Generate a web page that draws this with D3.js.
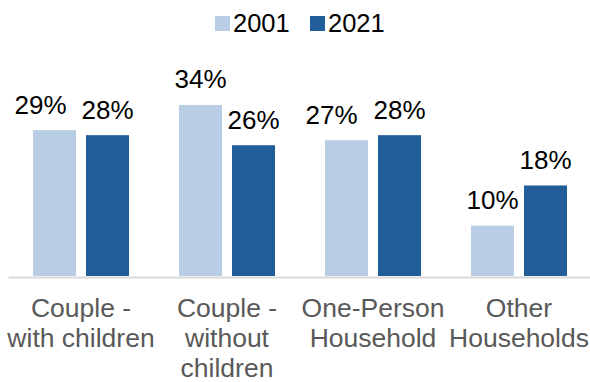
<!DOCTYPE html>
<html>
<head>
<meta charset="utf-8">
<script src="https://cdn.jsdelivr.net/npm/d3@7"></script>
<style>
  html, body { margin: 0; padding: 0; background: #ffffff; }
  svg { display: block; font-family: "Liberation Sans", Arial, sans-serif; }
</style>
</head>
<body>
<svg id="chart" width="590" height="382"></svg>
<script>
// Household composition shares, 2001 vs 2021 (percent)
const categories = ["Couple - with children", "Couple - without children", "One-Person Household", "Other Households"];
const categoryLines = [
  ["Couple -", "with children"],
  ["Couple -", "without", "children"],
  ["One-Person", "Household"],
  ["Other", "Households"]
];
const years = ["2001", "2021"];
const values2001 = [29, 34, 27, 10];
const values2021 = [28, 26, 28, 18];

const colors = { "2001": "#B9CDE4", "2021": "#215D99" };

const svg = d3.select("#chart");

const baseY = 276;
const x0 = d3.scaleBand().domain(categories).range([8, 592]).paddingInner(0).paddingOuter(0);
const x1 = d3.scaleBand().domain(years).range([0, x0.bandwidth()])
  .paddingInner(10 / 53).paddingOuter(0.4717);
const y = d3.scaleLinear().domain([0, 40]).range([baseY, baseY - 201.2]);

const rows = categories.map((c, i) => ({
  category: c,
  lines: categoryLines[i],
  vals: [
    { year: "2001", value: values2001[i] },
    { year: "2021", value: values2021[i] }
  ]
}));

// horizontal nudges for value labels that sit close to their neighbour
const labelShift = { "Couple - with children|2001": -14, "One-Person Household|2001": -15 };

const groups = svg.selectAll("g.grp").data(rows).join("g")
  .attr("class", "grp")
  .attr("transform", d => `translate(${x0(d.category)},0)`);

groups.selectAll("rect").data(d => d.vals).join("rect")
  .attr("x", d => x1(d.year))
  .attr("y", d => y(d.value))
  .attr("width", x1.bandwidth())
  .attr("height", d => y(0) - y(d.value))
  .attr("fill", d => colors[d.year]);

groups.each(function (row) {
  d3.select(this).selectAll("text.val").data(row.vals).join("text")
    .attr("class", "val")
    .attr("x", d => x1(d.year) + x1.bandwidth() / 2 + (labelShift[row.category + "|" + d.year] || 0))
    .attr("y", d => y(d.value) - 16.5)
    .attr("text-anchor", "middle")
    .attr("font-size", 26)
    .attr("fill", "#000000")
    .text(d => d.value + "%");
});

// category axis
const axis = svg.append("g")
  .attr("transform", `translate(0,${baseY + 1})`)
  .call(d3.axisBottom(x0).tickSize(0).tickFormat(""));
axis.select(".domain").attr("stroke", "#D9D9D9").attr("stroke-width", 2);

axis.selectAll(".tick").each(function (d, i) {
  const t = d3.select(this).select("text")
    .attr("y", 0)
    .attr("dy", null)
    .attr("font-size", 26.5)
    .attr("fill", "#595959")
    .attr("font-family", "'Liberation Sans', Arial, sans-serif");
  t.selectAll("tspan").data(categoryLines[i]).join("tspan")
    .attr("x", 0)
    .attr("y", (l, j) => 39.5 + j * 30.3)
    .text(l => l);
});

// legend
const legend = svg.append("g");
const legendX = [215, 310];
years.forEach((yr, i) => {
  legend.append("rect")
    .attr("x", legendX[i]).attr("y", 16)
    .attr("width", 15).attr("height", 15)
    .attr("fill", colors[yr]);
  legend.append("text")
    .attr("x", legendX[i] + 18).attr("y", 32)
    .attr("font-size", 25.5)
    .attr("fill", "#000000")
    .text(yr);
});
</script>
</body>
</html>
